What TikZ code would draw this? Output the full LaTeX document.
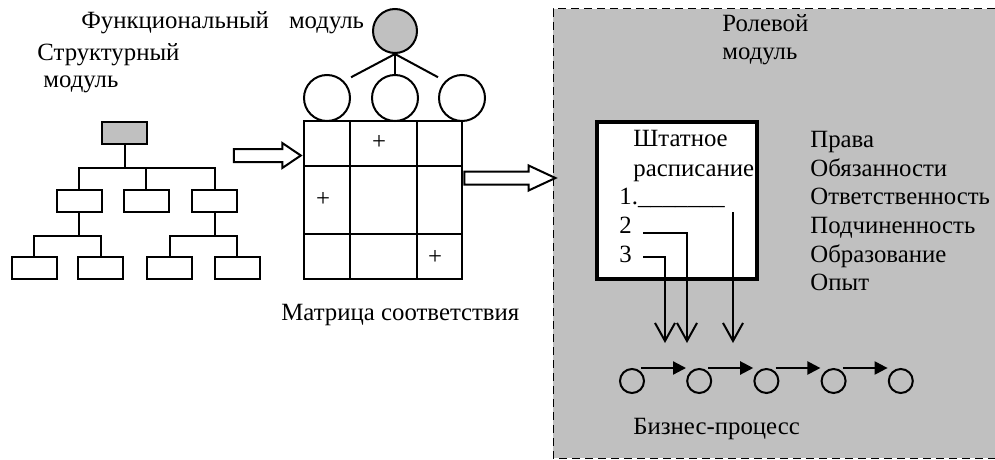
\documentclass[tikz,border=0pt]{standalone}
\usepackage{fontspec}
\setmainfont{Liberation Serif}
\usetikzlibrary{positioning, arrows.meta, shapes.arrows}
\definecolor{panelgray}{HTML}{C0C0C0}
\tikzset{
x=0.5pt, y=-0.5pt, % one unit is one pixel of the sketch, y runs down
every node/.style={font=\fontsize{12.4pt}{14.3pt}\selectfont, inner sep=0pt}, % Times-like text
txt/.style={anchor=base west}, % texts sit on their baseline
box/.style={draw, line width=1pt, minimum width=22.5pt, minimum height=11pt}, % boxes of the org tree
ring/.style={draw, circle, line width=1pt, minimum size=23pt}, % function circles
stepdot/.style={draw, circle, line width=1pt, minimum size=12pt}, % steps of the process
fat/.style={draw, single arrow, line width=1pt, fill=white, inner xsep=0pt, inner ysep=2.75pt, single arrow head extend=3pt}, % hollow block arrows
drop/.style={line width=1pt, -{Straight Barb[length=9pt, width=10pt]}}, % links from the staff list
flow/.style={line width=1.1pt, shorten >=2pt, -{Triangle[length=6.5pt, width=6.5pt]}}, % order of the process
node distance=33.6pt, % between the process steps
}

\begin{document}
\begin{tikzpicture}
        \useasboundingbox (0,0) rectangle (995,460);

        % role module area
        \fill[panelgray] (553,9) rectangle (995,458);
        \draw[dash pattern=on 4pt off 2.5pt, line width=0.5pt] (995,9) -- (553,9) -- (553,458) -- (995,458);

        % structural module
        \node[txt] (sm1) at (37,61) {Структурный};
        \node[txt] (sm2) at (43,88) {модуль};
        \node[box, fill=panelgray] (t) at (124.5,133) {};
        \node[box] (m1) at (79,201) {};
        \node[box] (m2) at (146,201) {};
        \node[box] (m3) at (214.5,201) {};
        \node[box] (b1) at (34,268) {};
        \node[box] (b2) at (100.5,268) {};
        \node[box] (b3) at (169.5,268) {};
        \node[box] (b4) at (237,268) {};

        \draw[line width=1pt] (t.south) -- ++(0,23) coordinate (j0);
        \draw[line width=1pt] (m1.north) |- (j0) -| (m3.north)
        (m2.north) -- (m2.north |- j0);
        \draw[line width=1pt] (m1.south) -- ++(0,23) coordinate (j1);
        \draw[line width=1pt] (b1.north) |- (j1) -| (b2.north);
        \draw[line width=1pt] (m3.south) -- ++(0,23) coordinate (j3);
        \draw[line width=1pt] (b3.north) |- (j3) -| (b4.north);

        % functional module
        \node[txt] (fm) at (81,29) {Функциональный\hspace{10pt}модуль};
        \node[ring, fill=panelgray, minimum size=22pt] (g) at (395,31) {};
        \node[ring] (c1) at (327,98) {};
        \node[ring] (c2) at (395,98) {};
        \node[ring] (c3) at (462,98) {};
        \draw[line width=1pt] (g.south) edge[shorten >=4pt] (c1.north east)
        (g.south) edge (c2.north)
        (g.south) edge[shorten >=4pt] (c3.north west);

        % matrix
        \node[draw, line width=1.4pt, minimum width=79pt, minimum height=79pt] (mx) at (383,200) {};
        \draw[line width=0.8pt] (350,121) -- (350,279) (417,121) -- (417,279)
        (304,166) -- (462,166) (304,234) -- (462,234);
        \node (x1) at (379,142) {+};
        \node (x2) at (323,199) {+};
        \node (x3) at (435,257) {+};
        \node[txt] (mt) at (281,320) {Матрица соответствия};

        \node[fat, minimum height=33.5pt, single arrow tip angle=68, anchor=tip] (a1) at ([yshift=22.25pt]mx.west) {};
        \node[fat, minimum height=45.5pt, single arrow tip angle=50, anchor=tail] (a2) at ([yshift=11pt]mx.east) {};

        % role module
        \node[txt] (rm1) at (722,32) {Ролевой};
        \node[txt] (rm2) at (722,60) {модуль};
        \node[draw, line width=1.6pt, fill=white, minimum width=80pt, minimum height=78.5pt] (sh) at (677,200.5) {};
        \node[txt] (h1) at (633,147) {Штатное};
        \node[txt] (h2) at (633,176) {расписание};
        \node[txt] (n1) at (619,204) {1.\_\_\_\_\_\_\_};
        \node[txt] (n2) at (619,233) {2};
        \node[txt] (n3) at (619,262) {3};
        \node[anchor=north west, align=left] (rights) at (810,131) {Права\\Обязанности\\Ответственность\\Подчиненность\\Образование\\Опыт};

        % business process
        \coordinate (d1) at (733,343);
        \coordinate (d2) at (687,343);
        \coordinate (d3) at (665,343);
        \draw[drop] (n1.base east -| d1) ++(0,8) -- (d1);
        \draw[drop] ([xshift=5.5pt]n2.base east) -| (d2);
        \draw[drop] ([xshift=5.5pt, yshift=2.5pt]n3.base east) -| (d3);

        \node[stepdot] (s1) at (632,381) {};
        \node[stepdot, right of=s1] (s2) {};
        \node[stepdot, right of=s2] (s3) {};
        \node[stepdot, right of=s3] (s4) {};
        \node[stepdot, right of=s4] (s5) {};
        \draw[flow] (s1.north east |- s1.north) -- (s2.north west |- s2.north);
        \draw[flow] (s2.north east |- s2.north) -- (s3.north west |- s3.north);
        \draw[flow] (s3.north east |- s3.north) -- (s4.north west |- s4.north);
        \draw[flow] (s4.north east |- s4.north) -- (s5.north west |- s5.north);
        \node[txt] (bp) at (633,434) {Бизнес-процесс};
      \end{tikzpicture}
\end{document}
